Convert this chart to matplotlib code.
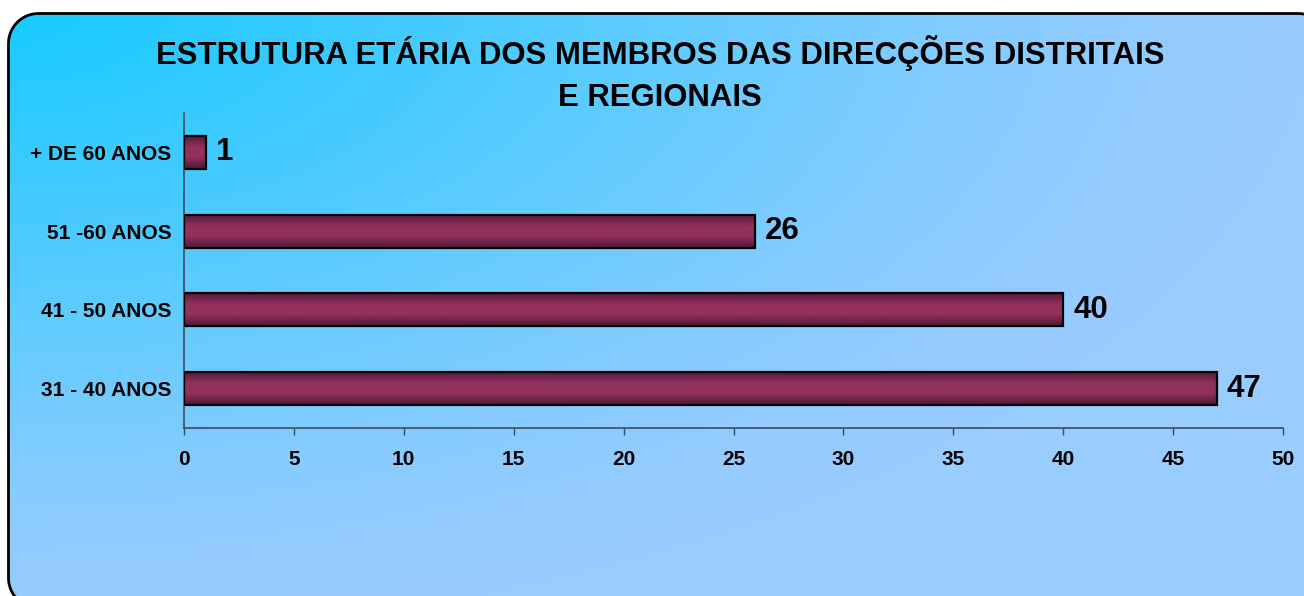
import matplotlib.pyplot as plt
import numpy as np
from matplotlib.patches import Polygon
from matplotlib.colors import LinearSegmentedColormap

plt.rcParams['font.family'] = ['Liberation Sans', 'DejaVu Sans']
plt.rcParams['font.weight'] = 'bold'

# dados
titulo = ['ESTRUTURA ETÁRIA DOS MEMBROS DAS DIRECÇÕES DISTRITAIS', 'E REGIONAIS']
faixas = ['31 - 40 ANOS', '41 - 50 ANOS', '51 -60 ANOS', '+ DE 60 ANOS']
membros = [47, 40, 26, 1]
x_ticks = [0, 5, 10, 15, 20, 25, 30, 35, 40, 45, 50]

W, H = 1304, 596
fig = plt.figure(figsize=(W / 100, H / 100), dpi=100)
fig.patch.set_facecolor('white')


def caixa_arredondada(x0, y0, x1, y1, r, n=24):
    # contorno com cantos arredondados (em pixeis, y para baixo)
    pts = []
    cantos = [(x1 - r, y0 + r, -90, 0), (x1 - r, y1 - r, 0, 90),
              (x0 + r, y1 - r, 90, 180), (x0 + r, y0 + r, 180, 270)]
    for cx, cy, a0, a1 in cantos:
        a = np.radians(np.linspace(a0, a1, n))
        pts += list(zip(cx + r * np.cos(a), cy + r * np.sin(a)))
    return pts


# fundo com gradiente e caixa arredondada (cortada a direita e em baixo)
bg = fig.add_axes([0, 0, 1, 1])
bg.set_xlim(0, W)
bg.set_ylim(H, 0)
bg.axis('off')
yy, xx = np.mgrid[0:H, 0:W]
r = np.sqrt((xx / 1150) ** 2 + (yy / 560) ** 2)
t = np.where(r < 0.8, r, 0.8 + 0.2 * (1 - (1 - np.clip((r - 0.8) / 0.4, 0, 1)) ** 2))
fundo = LinearSegmentedColormap.from_list('fundo', ['#14CAFF', '#99CCFF'])
caixa = Polygon(caixa_arredondada(8.5, 13.5, 1328, 608, 30), closed=True,
                fc='none', ec='black', lw=2, zorder=2)
bg.add_patch(caixa)
img = bg.imshow(t, cmap=fundo, vmin=0, vmax=1, extent=(0, W, H, 0), aspect='auto', zorder=1)
img.set_clip_path(caixa)

# titulo
fig.text(660 / W, 1 - 64 / H, titulo[0], ha='center', va='baseline', fontsize=22.4, fontweight='bold')
fig.text(660 / W, 1 - 106 / H, titulo[1], ha='center', va='baseline', fontsize=22.4, fontweight='bold')

# grafico de barras
ax = fig.add_axes([184 / W, 1 - 428 / H, (1283 - 184) / W, (428 - 113) / H])
ax.patch.set_alpha(0)
pos = np.arange(len(faixas))
barras = ax.barh(pos, membros, height=0.42, fc='none', ec='black', lw=1.6, zorder=3)

grad = LinearSegmentedColormap.from_list(
    'barra', [(0, '#4f1a36'), (0.35, '#92305e'), (0.65, '#92305e'), (1, '#4f1a36')])
for b in barras:
    x0, y0, w, h = b.get_x(), b.get_y(), b.get_width(), b.get_height()
    im = ax.imshow(np.linspace(0, 1, 64).reshape(-1, 1), cmap=grad,
                   extent=(x0, x0 + w, y0, y0 + h), aspect='auto', zorder=2)
    im.set_clip_path(b)

for i, v in enumerate(membros):
    ax.text(v + 0.45, pos[i], str(v), ha='left', va='center', fontsize=22.5, fontweight='bold')

ax.set_xlim(0, 50)
ax.set_ylim(-0.5, len(faixas) - 0.5)
ax.set_xticks(x_ticks)
ax.set_yticks(pos)
ax.set_yticklabels(faixas)
for s in ['top', 'right']:
    ax.spines[s].set_visible(False)
for s in ['left', 'bottom']:
    ax.spines[s].set_color('#3f4b57')
    ax.spines[s].set_linewidth(1.2)
ax.tick_params(axis='x', length=5, width=1, color='#3f4b57', pad=11, labelsize=15)
ax.tick_params(axis='y', length=0, pad=9, labelsize=15)

fig.savefig('out.png', dpi=100)
